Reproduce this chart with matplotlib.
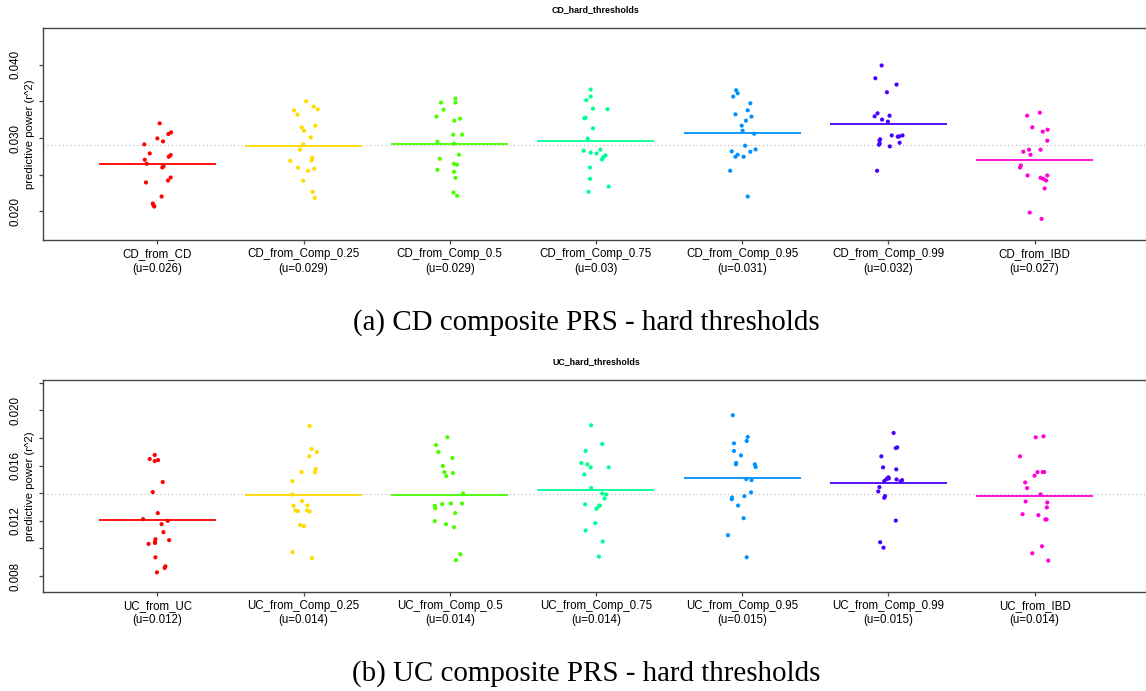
import matplotlib
matplotlib.use('Agg')
import matplotlib.pyplot as plt
import numpy as np

plt.rcParams['font.family'] = ['Liberation Sans', 'DejaVu Sans']

# R rainbow(7)
colours = ['#FF0000', '#FFDB00', '#49FF00', '#00FF92', '#0092FF', '#4900FF', '#FF00DB']

sources = ['from_CD', 'from_Comp_0.25', 'from_Comp_0.5', 'from_Comp_0.75',
           'from_Comp_0.95', 'from_Comp_0.99', 'from_IBD']
cd_groups = ['CD_' + s for s in sources]
uc_groups = ['UC_from_UC'] + ['UC_' + s for s in sources[1:]]

# predictive power (r^2), CD panel
cd_from_cd = [0.03200, 0.03077, 0.03055, 0.02995, 0.02954, 0.02913, 0.02790, 0.02768, 0.02745, 0.02704,
              0.02649, 0.02617, 0.02599, 0.02462, 0.02421, 0.02394, 0.02203, 0.02107, 0.02084, 0.02066]
cd_comp_025 = [0.03501, 0.03428, 0.03378, 0.03392, 0.03319, 0.03146, 0.03169, 0.03100, 0.03009, 0.02913,
               0.02841, 0.02731, 0.02695, 0.02690, 0.02595, 0.02581, 0.02554, 0.02417, 0.02267, 0.02185]
cd_comp_05 = [0.03538, 0.03483, 0.03483, 0.03387, 0.03292, 0.03264, 0.03237, 0.03046, 0.03046, 0.02950,
              0.02923, 0.02772, 0.02718, 0.02649, 0.02636, 0.02567, 0.02540, 0.02458, 0.02257, 0.02212]
cd_comp_075 = [0.03661, 0.03565, 0.03515, 0.03401, 0.03392, 0.03278, 0.03269, 0.03132, 0.02991, 0.02827,
               0.02800, 0.02841, 0.02790, 0.02763, 0.02740, 0.02708, 0.02599, 0.02444, 0.02339, 0.02267]
cd_comp_095 = [0.03651, 0.03610, 0.03565, 0.03474, 0.03378, 0.03323, 0.03292, 0.03237, 0.03169, 0.03100,
               0.03059, 0.02895, 0.02845, 0.02818, 0.02813, 0.02772, 0.02745, 0.02745, 0.02554, 0.02203]
cd_comp_099 = [0.03989, 0.03815, 0.03729, 0.03624, 0.03337, 0.03296, 0.03305, 0.03251, 0.03223, 0.03036,
               0.03036, 0.03018, 0.03023, 0.02982, 0.02968, 0.02936, 0.02909, 0.02886, 0.02554, 0.02923]
cd_from_ibd = [0.03346, 0.03305, 0.03146, 0.03114, 0.03087, 0.02964, 0.02841, 0.02841, 0.02813, 0.02772,
               0.02626, 0.02599, 0.02490, 0.02490, 0.02458, 0.02444, 0.02421, 0.02312, 0.01984, 0.01898]

# predictive power (r^2), UC panel
uc_from_uc = [0.01677, 0.01648, 0.01640, 0.01633, 0.01481, 0.01408, 0.01256, 0.01212, 0.01200, 0.01176,
              0.01118, 0.01060, 0.01067, 0.01048, 0.01040, 0.01033, 0.00936, 0.00871, 0.00859, 0.00827]
uc_comp_025 = [0.01887, 0.01720, 0.01698, 0.01667, 0.01575, 0.01551, 0.01553, 0.01488, 0.01391, 0.01343,
               0.01309, 0.01311, 0.01275, 0.01270, 0.01275, 0.01268, 0.01169, 0.01161, 0.00973, 0.00929]
uc_comp_05 = [0.01805, 0.01749, 0.01698, 0.01655, 0.01597, 0.01553, 0.01546, 0.01524, 0.01398, 0.01326,
              0.01326, 0.01321, 0.01309, 0.01292, 0.01256, 0.01198, 0.01176, 0.01154, 0.00958, 0.00915]
uc_comp_075 = [0.01892, 0.01757, 0.01706, 0.01619, 0.01609, 0.01587, 0.01587, 0.01536, 0.01437, 0.01398,
               0.01391, 0.01319, 0.01311, 0.01306, 0.01362, 0.01287, 0.01183, 0.01130, 0.01050, 0.00941]
uc_comp_095 = [0.01965, 0.01807, 0.01778, 0.01761, 0.01706, 0.01674, 0.01619, 0.01609, 0.01609, 0.01590,
               0.01502, 0.01495, 0.01406, 0.01379, 0.01369, 0.01357, 0.01311, 0.01219, 0.01096, 0.00936]
uc_comp_099 = [0.01836, 0.01732, 0.01727, 0.01667, 0.01587, 0.01573, 0.01515, 0.01502, 0.01488, 0.01500,
               0.01495, 0.01486, 0.01444, 0.01413, 0.01379, 0.01367, 0.01202, 0.01045, 0.01006, 0.01507]
uc_from_ibd = [0.01805, 0.01812, 0.01667, 0.01553, 0.01553, 0.01553, 0.01527, 0.01478, 0.01437, 0.01391,
               0.01340, 0.01333, 0.01297, 0.01248, 0.01241, 0.01210, 0.01210, 0.01016, 0.00965, 0.00912]

# horizontal jitter of the strip points (in category units), as in the picture
cd_jitter = [
    [0.016, 0.094, 0.076, 0.0, 0.039, -0.089, -0.052, 0.091, 0.078, -0.086,
     -0.073, 0.042, 0.034, 0.091, 0.073, -0.078, 0.029, -0.031, -0.026, -0.021],
    [0.018, 0.068, -0.065, 0.097, -0.042, -0.013, 0.081, 0.003, 0.050, -0.003,
     -0.024, 0.060, 0.055, -0.091, -0.037, 0.073, 0.031, -0.003, 0.063, 0.076],
    [0.039, 0.039, -0.060, -0.042, -0.091, 0.071, 0.031, 0.024, 0.084, -0.084,
     0.029, 0.063, -0.068, 0.029, 0.050, -0.084, 0.029, 0.039, 0.026, 0.050],
    [-0.036, -0.036, -0.066, -0.020, 0.079, -0.071, -0.079, -0.020, -0.056, -0.084,
     -0.036, 0.031, 0.005, 0.066, 0.051, 0.041, -0.041, -0.041, 0.087, -0.051],
    [-0.041, -0.031, -0.061, 0.056, 0.038, -0.046, 0.064, 0.026, -0.003, 0.003,
     0.082, 0.020, 0.092, -0.071, 0.056, -0.031, -0.046, 0.010, -0.082, 0.038],
    [-0.046, -0.089, 0.056, -0.010, -0.074, -0.094, 0.008, -0.043, -0.003, 0.023,
     0.097, 0.064, 0.074, -0.056, -0.061, 0.077, -0.064, 0.010, -0.077, -0.059],
    [0.036, -0.051, -0.015, 0.089, 0.056, 0.087, -0.038, 0.041, -0.077, -0.028,
     -0.094, -0.099, -0.048, 0.087, 0.041, 0.059, 0.079, 0.069, -0.033, 0.048],
]
uc_jitter = [
    [-0.018, -0.052, 0.005, -0.018, 0.037, -0.031, 0.003, -0.097, 0.071, 0.029,
     0.042, 0.081, -0.013, -0.016, -0.016, -0.060, -0.013, 0.055, 0.050, -0.003],
    [0.042, 0.055, 0.091, 0.039, 0.084, 0.078, -0.013, -0.076, -0.076, -0.010,
     -0.068, 0.026, -0.055, -0.039, 0.024, 0.042, -0.024, 0.003, -0.076, 0.057],
    [-0.016, -0.094, -0.078, 0.018, -0.047, -0.037, 0.021, -0.024, 0.091, 0.008,
     0.084, -0.052, -0.102, -0.099, 0.037, -0.102, -0.026, 0.029, 0.073, 0.042],
    [-0.033, 0.043, -0.071, -0.099, -0.059, -0.036, 0.087, -0.079, -0.033, 0.043,
     0.071, -0.074, 0.026, 0.020, 0.059, 0.003, -0.005, -0.071, 0.046, 0.020],
    [-0.064, 0.038, 0.031, -0.056, -0.056, -0.008, -0.041, -0.043, 0.087, 0.092,
     0.028, 0.064, 0.061, 0.015, -0.069, -0.071, -0.028, 0.010, -0.097, 0.031],
    [0.036, 0.061, 0.051, -0.048, -0.036, 0.054, 0.0, -0.013, -0.028, 0.056,
     0.094, 0.084, -0.061, -0.069, -0.023, -0.028, 0.051, -0.056, -0.033, 0.003],
    [0.008, 0.061, -0.099, 0.020, 0.056, 0.066, 0.0, -0.064, -0.051, 0.041,
     -0.061, 0.087, 0.084, -0.082, 0.026, 0.074, 0.082, 0.051, -0.015, 0.094],
]

cd_values = [cd_from_cd, cd_comp_025, cd_comp_05, cd_comp_075, cd_comp_095, cd_comp_099, cd_from_ibd]
uc_values = [uc_from_uc, uc_comp_025, uc_comp_05, uc_comp_075, uc_comp_095, uc_comp_099, uc_from_ibd]

cd_yticks = [0.020, 0.025, 0.030, 0.035, 0.040]
cd_ylabels = ['0.020', '', '0.030', '', '0.040']
uc_yticks = [0.008, 0.010, 0.012, 0.014, 0.016, 0.018, 0.020, 0.022]
uc_ylabels = ['0.008', '', '0.012', '', '0.016', '', '0.020', '']

W, H = 1146, 691
fig = plt.figure(figsize=(W / 100, H / 100), dpi=100)

frame_col = '#444444'


def draw_panel(top_px, title, groups, values, jitters, ylim, yticks, ylabels):
    left, right, height = 43.3, 1148.6, 212.0
    ax = fig.add_axes([left / W, 1 - (top_px + height) / H, (right - left) / W, height / H])

    grand = np.mean([np.mean(v) for v in values])
    ax.axhline(grand, color='#b8b8b8', lw=0.8, ls=(0, (1, 2.5)), zorder=1)

    xlabels = []
    for i, (name, vals, jit, col) in enumerate(zip(groups, values, jitters, colours)):
        pos = i + 1
        ax.scatter(pos + np.array(jit), vals, s=9, color=col, edgecolors='none', zorder=3)
        m = np.mean(vals)
        ax.hlines(m, pos - 0.4, pos + 0.4, color=col, lw=1.3, zorder=2)
        xlabels.append('%s\n(u=%s)' % (name, format(round(m, 3), 'g')))

    ax.set_xlim(0.22, 7.78)
    ax.set_ylim(*ylim)
    ax.set_xticks(range(1, len(groups) + 1), xlabels, fontsize=8.3, linespacing=1.3)
    ax.set_yticks(yticks, ylabels, fontsize=8.3, rotation=90, va='center', ha='center')
    ax.tick_params(axis='x', length=3.2, width=0.9, color=frame_col, pad=2.6)
    ax.tick_params(axis='y', length=3.2, width=0.9, color=frame_col, pad=16.5)
    for sp in ax.spines.values():
        sp.set_color(frame_col)
        sp.set_linewidth(1.0)

    ax.set_title(title, fontsize=6.4, fontweight='bold', pad=11.4)
    fig.text(30 / W, 1 - (top_px + height / 2) / H, 'predictive power (r^2)',
             rotation=90, ha='center', va='center', fontsize=8.2)
    return ax


draw_panel(28.0, 'CD_hard_thresholds', cd_groups, cd_values, cd_jitter,
           (0.0161, 0.0450), cd_yticks, cd_ylabels)
draw_panel(379.7, 'UC_hard_thresholds', uc_groups, uc_values, uc_jitter,
           (0.00687, 0.02222), uc_yticks, uc_ylabels)

fig.text(586 / W, 1 - 329.3 / H, '(a) CD composite PRS - hard thresholds',
         family=['Liberation Serif', 'DejaVu Serif'], fontsize=20.9, ha='center', va='baseline')
fig.text(586 / W, 1 - 681.0 / H, '(b) UC composite PRS - hard thresholds',
         family=['Liberation Serif', 'DejaVu Serif'], fontsize=20.9, ha='center', va='baseline')

fig.savefig('out.png', dpi=100)
